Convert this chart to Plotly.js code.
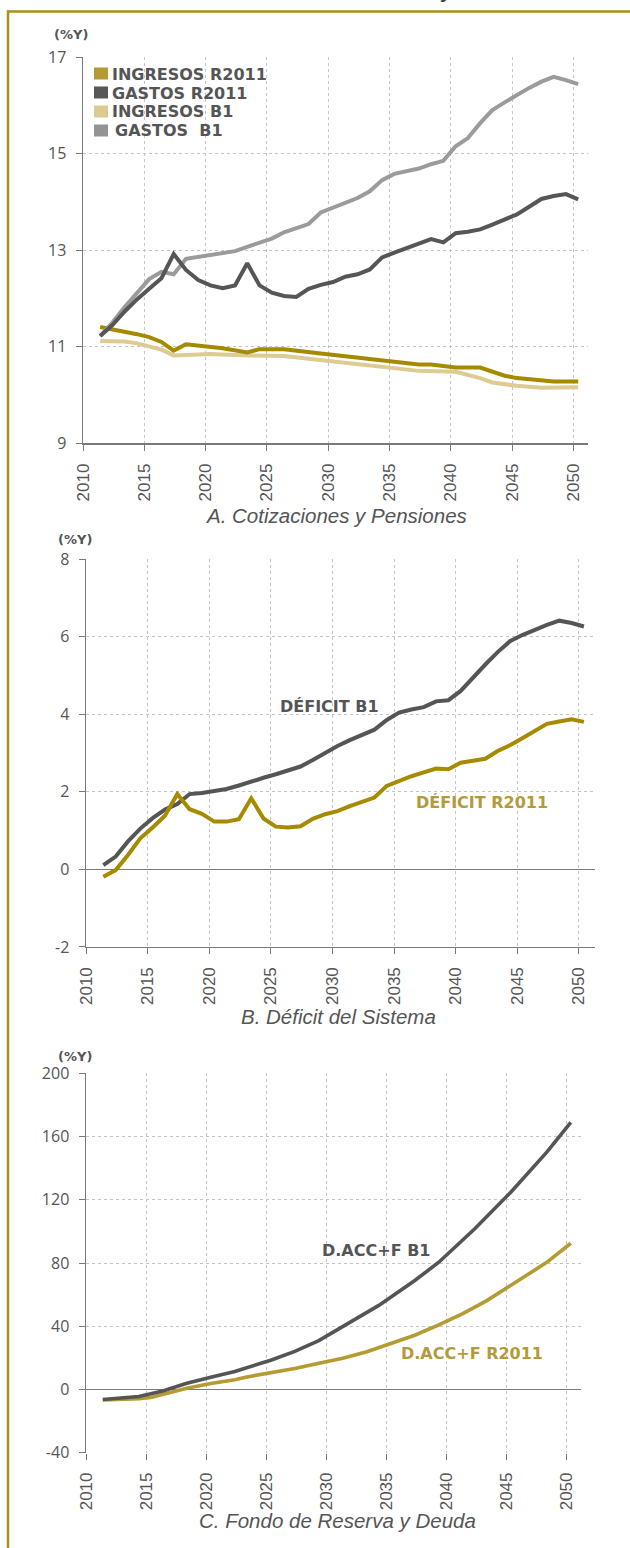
<!DOCTYPE html>
<html>
<head>
<meta charset="utf-8">
<script src="https://cdn.plot.ly/plotly-3.0.1.min.js"></script>
<style>
  html, body { margin: 0; padding: 0; background: #ffffff; }
  #chart { width: 630px; height: 1548px; }
</style>
</head>
<body>
<div id="chart"></div>
<script>
// ---------------- DATA ----------------
// Panel A: Cotizaciones y Pensiones (%Y)
const yearsIngresosR2011 = [2011,2013,2014,2015,2016,2017,2018,2021,2023,2024,2026,2029,2032,2037,2038,2040,2042,2044,2045,2048,2050];
const ingresosR2011      = [11.41,11.32,11.26,11.20,11.10,10.92,11.05,10.97,10.88,10.95,10.95,10.86,10.77,10.63,10.63,10.57,10.57,10.40,10.35,10.28,10.28];

const yearsIngresosB1 = [2011,2013,2014,2016,2017,2018,2020,2023,2026,2028,2032,2037,2040,2042,2043,2045,2047,2048,2050];
const ingresosB1      = [11.12,11.11,11.07,10.94,10.82,10.83,10.85,10.82,10.81,10.75,10.63,10.50,10.48,10.35,10.26,10.19,10.15,10.16,10.16];

const yearsAnnual = [2011,2012,2013,2014,2015,2016,2017,2018,2019,2020,2021,2022,2023,2024,2025,2026,2027,2028,2029,2030,
                     2031,2032,2033,2034,2035,2036,2037,2038,2039,2040,2041,2042,2043,2044,2045,2046,2047,2048,2049,2050];
const gastosR2011 = [11.22,11.45,11.73,11.98,12.20,12.42,12.92,12.59,12.38,12.27,12.21,12.27,12.73,12.27,12.12,12.05,12.03,12.20,12.28,12.34,
                     12.45,12.50,12.60,12.85,12.95,13.04,13.12,13.23,13.16,13.35,13.38,13.43,13.53,13.63,13.74,13.90,14.06,14.12,14.16,14.05];
const gastosB1    = [11.22,11.50,11.82,12.12,12.40,12.55,12.50,12.82,12.86,12.89,12.93,12.98,13.07,13.15,13.24,13.37,13.46,13.54,13.78,13.88,
                     13.97,14.08,14.22,14.45,14.58,14.64,14.69,14.78,14.85,15.15,15.32,15.63,15.90,16.06,16.22,16.36,16.49,16.59,16.52,16.44];

// Panel B: Déficit del Sistema (%Y)
const deficitB1    = [0.11,0.33,0.72,1.05,1.32,1.54,1.68,1.94,1.97,2.01,2.07,2.16,2.27,2.36,2.45,2.54,2.65,2.82,3.00,3.18,
                      3.33,3.47,3.60,3.85,4.04,4.12,4.18,4.33,4.36,4.60,4.95,5.28,5.60,5.88,6.04,6.18,6.30,6.41,6.35,6.26];
const deficitR2011 = [-0.19,-0.02,0.37,0.80,1.08,1.38,1.94,1.55,1.43,1.23,1.23,1.29,1.83,1.31,1.10,1.08,1.11,1.30,1.42,1.50,
                      1.63,1.74,1.85,2.15,2.28,2.40,2.50,2.60,2.58,2.75,2.80,2.85,3.05,3.20,3.38,3.57,3.75,3.81,3.87,3.80];

// Panel C: Fondo de Reserva y Deuda (%Y)
const yearsDaccB1 = [2011,2014,2016,2018,2020,2022,2025,2027,2029,2031,2034,2037,2039,2042,2045,2048,2050];
const daccB1      = [-6.3,-4.4,-0.9,3.9,7.8,11.4,18.5,24.1,30.9,39.6,53.2,68.9,80.5,101.7,124.8,150.1,169.0];
const yearsDaccR2011 = [2011,2014,2015,2016,2018,2020,2022,2023,2025,2027,2029,2031,2033,2035,2037,2039,2041,2043,2045,2047,2048,2050];
const daccR2011      = [-6.7,-5.9,-5.0,-3.1,0.8,3.8,6.1,7.9,10.6,13.3,16.6,19.8,23.9,29.0,34.3,40.8,48.0,56.2,65.7,75.3,80.4,92.5];

// Labels
const legendNames  = ["INGRESOS R2011", "GASTOS R2011", "INGRESOS B1", "GASTOS\u00a0\u00a0B1"];
const panelTitles  = ["A. Cotizaciones y Pensiones", "B. Déficit del Sistema", "C. Fondo de Reserva y Deuda"];
const unitLabel    = "(%Y)";
const xTicks       = [2010,2015,2020,2025,2030,2035,2040,2045,2050];
const yTicksA      = [9,11,13,15,17];
const yTicksB      = [-2,0,2,4,6,8];
const yTicksC      = [-40,0,40,80,120,160,200];
const seriesLabelsB = ["DÉFICIT B1", "DÉFICIT R2011"];
const seriesLabelsC = ["D.ACC+F B1", "D.ACC+F R2011"];

// ---------------- STYLE / LAYOUT ----------------
const W = 630, H = 1548;
const px = x => x / W;
const py = y => 1 - y / H;
const X_OFF = 0.4;               // annual points drawn slightly right of the year tick
const shift = arr => arr.map(v => v + X_OFF);

const C = {
  ingR: '#A58A00', ingB: '#DECB92', gasR: '#565656', gasB: '#9B9B9D',
  defR: '#A68A00', defB: '#555555', accR: '#B49B32', accB: '#555555',
  labelGold: '#B39B3C', text: '#555555', border: '#A8901A',
  grid: '#c4c4c4', axis: '#7a7a7a'
};
const legendSquareColors = ['#B49A36', '#58585A', '#DDCA8F', '#939396'];

const tickFontX = {family: '"Liberation Sans Narrow", "Liberation Sans", Arial, sans-serif', size: 17, color: C.text};
const tickFontY = {family: '"Open Sans", sans-serif', size: 16, color: C.text};
const boldFont  = (size, color) => ({family: '"DejaVu Sans", Verdana, sans-serif', size: size, color: color, weight: 'bold'});
const titleFont = {family: '"Liberation Sans", Arial, sans-serif', size: 20.5, color: C.text, style: 'italic'};

function xAxis(domain, range, anchor, showline) {
  return {
    domain: domain, range: range, anchor: anchor,
    tickmode: 'array', tickvals: xTicks, ticktext: xTicks.map(String),
    tickangle: -90, tickfont: tickFontX,
    ticks: 'outside', ticklen: 6, tickcolor: C.axis, tickwidth: 1,
    ticklabelstandoff: 6,
    showline: showline, linecolor: C.axis, linewidth: 1.5,
    showgrid: true, gridcolor: C.grid, griddash: 'dot', gridwidth: 1,
    zeroline: false, fixedrange: true
  };
}
function yAxis(domain, range, ticks, anchor, zeroline) {
  return {
    domain: domain, range: range, anchor: anchor,
    tickmode: 'array', tickvals: ticks, ticktext: ticks.map(String),
    tickfont: tickFontY,
    ticks: 'outside', ticklen: 6, tickcolor: C.axis, tickwidth: 1,
    ticklabelstandoff: 6,
    showline: true, linecolor: C.axis, linewidth: 1.5,
    showgrid: true, gridcolor: C.grid, griddash: 'dot', gridwidth: 1,
    zeroline: zeroline, zerolinecolor: C.axis, zerolinewidth: 1.2,
    fixedrange: true
  };
}

// plot frames (pixel positions on the 630x1548 page)
const frameA = {l: 83, r: 588, t: 57, b: 443.3, xEnd: 2051.2};
const frameB = {l: 86.1, r: 595, t: 559, b: 946.9, xEnd: 2051.3};
const frameC = {l: 86, r: 581, t: 1073.3, b: 1452.7, xEnd: 2051.25};

const line = (x, y, color, xa, ya, width) => ({
  type: 'scatter', mode: 'lines', x: shift(x), y: y,
  xaxis: xa, yaxis: ya, hoverinfo: 'skip', showlegend: false,
  line: {color: color, width: width || 4, shape: 'linear'}
});

const traces = [
  line(yearsIngresosB1, ingresosB1, C.ingB, 'x', 'y'),
  line(yearsIngresosR2011, ingresosR2011, C.ingR, 'x', 'y'),
  line(yearsAnnual, gastosB1, C.gasB, 'x', 'y'),
  line(yearsAnnual, gastosR2011, C.gasR, 'x', 'y'),
  line(yearsAnnual, deficitB1, C.defB, 'x2', 'y2'),
  line(yearsAnnual, deficitR2011, C.defR, 'x2', 'y2'),
  line(yearsDaccR2011, daccR2011, C.accR, 'x3', 'y3', 3.6),
  line(yearsDaccB1, daccB1, C.accB, 'x3', 'y3', 3.6)
];

const shapes = [
  // frame border (top and left gold rule)
  {type: 'line', xref: 'paper', yref: 'paper', x0: px(7), x1: px(630), y0: py(11.5), y1: py(11.5), line: {color: C.border, width: 2.5}},
  {type: 'line', xref: 'paper', yref: 'paper', x0: px(8), x1: px(8), y0: py(10.5), y1: py(1548), line: {color: C.border, width: 2.5}}
];

const annotations = [];
// legend (panel A, top-left)
const legendRows = [73.5, 92.5, 111.5, 130.5];
legendNames.forEach((name, i) => {
  shapes.push({type: 'rect', xref: 'paper', yref: 'paper',
    x0: px(94), x1: px(108), y0: py(legendRows[i] + 6), y1: py(legendRows[i] - 6),
    fillcolor: legendSquareColors[i], line: {width: 0}});
  annotations.push({xref: 'paper', yref: 'paper', x: px(i === 3 ? 113 : 110), y: py(legendRows[i] + 0.5),
    xanchor: 'left', yanchor: 'middle', showarrow: false, text: name, font: boldFont(16, C.text)});
});

// unit labels
[[71, 35], [75, 540], [75, 1056]].forEach(p => {
  annotations.push({xref: 'paper', yref: 'paper', x: px(p[0]), y: py(p[1]), xanchor: 'center', yanchor: 'middle',
    showarrow: false, text: unitLabel, font: boldFont(13, C.text)});
});

// panel titles
[[335.5, 516], [338, 1017], [337, 1520]].forEach((p, i) => {
  annotations.push({xref: 'paper', yref: 'paper', x: px(p[0]), y: py(p[1]), xanchor: 'center', yanchor: 'middle',
    showarrow: false, text: panelTitles[i], font: titleFont});
});

// series labels (data coordinates)
annotations.push({xref: 'x2', yref: 'y2', x: 2025.55, y: 4.21, xanchor: 'left', yanchor: 'middle', showarrow: false,
  text: seriesLabelsB[0], font: boldFont(16, C.defB)});
annotations.push({xref: 'x2', yref: 'y2', x: 2036.6, y: 1.71, xanchor: 'left', yanchor: 'middle', showarrow: false,
  text: seriesLabelsB[1], font: boldFont(16, C.labelGold)});
annotations.push({xref: 'x3', yref: 'y3', x: 2029.5, y: 88.1, xanchor: 'left', yanchor: 'middle', showarrow: false,
  text: seriesLabelsC[0], font: boldFont(16, C.accB)});
annotations.push({xref: 'x3', yref: 'y3', x: 2036.1, y: 23.0, xanchor: 'left', yanchor: 'middle', showarrow: false,
  text: seriesLabelsC[1], font: boldFont(16, C.labelGold)});

// fragment of the cut-off page heading above the frame
annotations.push({xref: 'paper', yref: 'paper', x: px(446), y: py(5), xanchor: 'center', yanchor: 'bottom', showarrow: false,
  text: 'y', font: {family: '"Liberation Sans", Arial, sans-serif', size: 26, color: '#444'}});

const layout = {
  width: W, height: H,
  margin: {l: 0, r: 0, t: 0, b: 0, pad: 0},
  paper_bgcolor: '#ffffff', plot_bgcolor: 'rgba(0,0,0,0)',
  showlegend: false,
  xaxis:  xAxis([px(frameA.l), px(frameA.r)], [2010, frameA.xEnd], 'y', true),
  yaxis:  yAxis([py(frameA.b), py(frameA.t)], [9, 17], yTicksA, 'x', false),
  xaxis2: xAxis([px(frameB.l), px(frameB.r)], [2010, frameB.xEnd], 'y2', true),
  yaxis2: yAxis([py(frameB.b), py(frameB.t)], [-2, 8], yTicksB, 'x2', true),
  xaxis3: xAxis([px(frameC.l), px(frameC.r)], [2010, frameC.xEnd], 'y3', false),
  yaxis3: yAxis([py(frameC.b), py(frameC.t)], [-40, 200], yTicksC, 'x3', true),
  shapes: shapes,
  annotations: annotations
};

Plotly.newPlot('chart', traces, layout, {staticPlot: true, displayModeBar: false});
</script>
</body>
</html>
